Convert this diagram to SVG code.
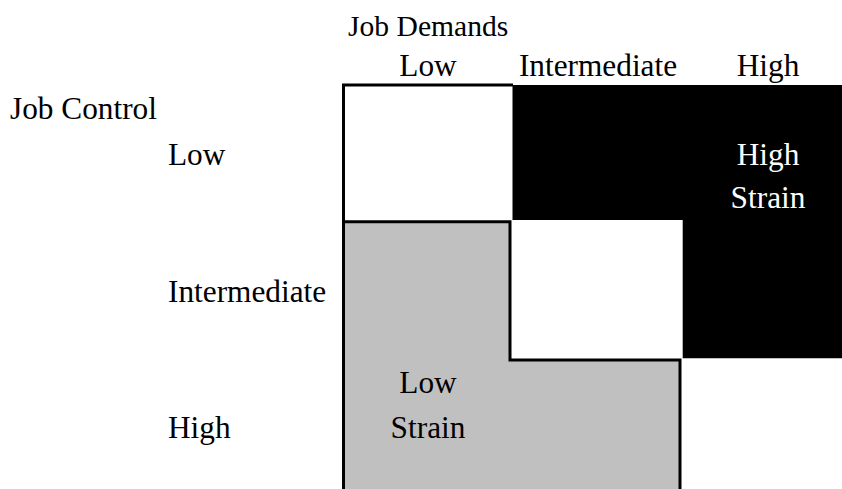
<svg xmlns="http://www.w3.org/2000/svg" width="842" height="489" viewBox="0 0 842 489">
  <style>
    text { font-family: "Liberation Serif", "Times New Roman", serif; font-size: 31.3px; fill: #000; }
    .inv { fill: #fff; }
    .mid { text-anchor: middle; }
  </style>
  <rect width="842" height="489" fill="#fff"/>

  <!-- Axis titles -->
  <g id="axis-titles">
    <text x="348" y="36" style="font-size:29.6px">Job Demands</text>
    <text x="10" y="119">Job Control</text>
  </g>

  <!-- Column headers (job demands) -->
  <g id="column-headers">
    <text class="mid" x="428" y="76">Low</text>
    <text class="mid" x="598" y="76">Intermediate</text>
    <text class="mid" x="768" y="76">High</text>
  </g>

  <!-- Row headers (job control) -->
  <g id="row-headers">
    <text x="168" y="165">Low</text>
    <text x="168" y="302">Intermediate</text>
    <text x="168" y="438">High</text>
  </g>

  <!-- High strain region -->
  <g id="high-strain">
    <path d="M512.5,85 H842 V358.3 H682.7 V220 H512.5 Z" fill="#000"/>
    <text class="mid inv" x="768" y="165">High</text>
    <text class="mid inv" x="768" y="208">Strain</text>
  </g>

  <!-- Low strain region -->
  <g id="low-strain">
    <path d="M343.5,221.7 H510 V360 H680 V495 H343.5 Z" fill="#c0c0c0" stroke="#000" stroke-width="3"/>
    <text class="mid" x="428" y="393">Low</text>
    <text class="mid" x="428" y="438">Strain</text>
  </g>

  <!-- Grid frame -->
  <g id="frame">
    <path d="M343.5,495 V85 H513" fill="none" stroke="#000" stroke-width="3"/>
  </g>
</svg>
